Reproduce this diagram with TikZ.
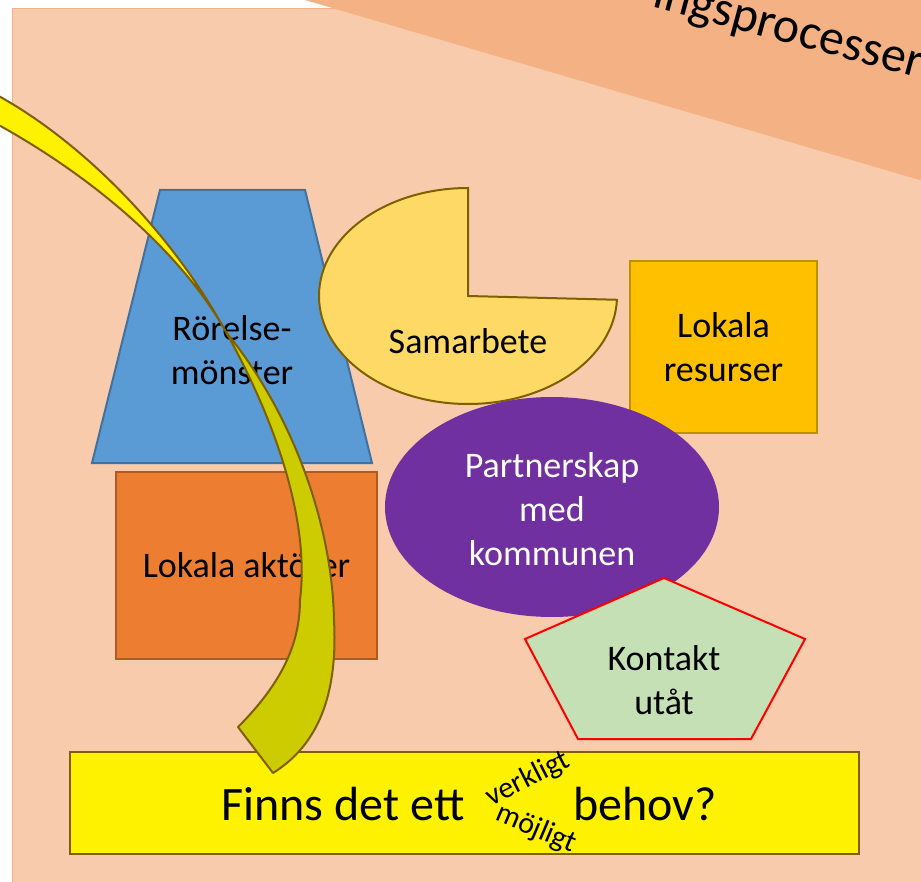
\documentclass[tikz,border=0pt]{standalone}
\usepackage{fontspec}
\setmainfont{Carlito}
\usepackage{xcolor}
\definecolor{bgpeach}{HTML}{F8CBAD}
\definecolor{bannerorange}{HTML}{F4B183}
\definecolor{trapblue}{HTML}{5B9BD5}
\definecolor{trapline}{HTML}{41719C}
\definecolor{pacyellow}{HTML}{FFD966}
\definecolor{olivebrown}{HTML}{7F6000}
\definecolor{resgold}{HTML}{FFC000}
\definecolor{resline}{HTML}{BF9000}
\definecolor{partpurple}{HTML}{7030A0}
\definecolor{aktorange}{HTML}{ED7D31}
\definecolor{aktline}{HTML}{AE5A21}
\definecolor{kontgreen}{HTML}{C5E0B4}
\definecolor{arrowback}{HTML}{CCCC00}
\tikzset{
  shapelabel/.style={text=black, align=center, font=\fontsize{18}{22}\selectfont},
  bigtext/.style={text=black, font=\fontsize{24}{28}\selectfont},
  smalltext/.style={text=black, font=\fontsize{15}{18}\selectfont},
  bannertext/.style={text=black, font=\fontsize{25}{30}\selectfont},
  arrowedge/.style={draw=olivebrown, line width=1pt, line join=round}
}

\begin{document}
\begin{tikzpicture}[x=0.5pt,y=-0.5pt]
	\useasboundingbox (0,0) rectangle (921,882);
	\clip (0,0) rectangle (921,882);
	% Background and banner
	\draw[bannerorange, fill=bgpeach] (12,8) rectangle (940,900);
	\fill[bannerorange] (298,-2) -- (930,183) -- (930,-2) -- cycle;
	\node[bannertext, rotate=-15, anchor=base east] (process) at (926,80) {ingsprocesser};
	% Upper shapes
	\draw[trapline, line width=1pt, fill=trapblue] (92,463) -- (160,190) -- (305,190) -- (372,463) -- cycle;
	\node[shapelabel] (movement) at (232,350) {Rörelse-\\mönster};
	\draw[olivebrown, line width=1pt, fill=pacyellow] (468,296) -- (468,188) arc[start angle=270, end angle=2, x radius=149, y radius=108] -- cycle;
	\node[shapelabel] (coop) at (468,341) {Samarbete};
	\draw[resline, line width=1pt, fill=resgold] (630,261) rectangle (817,433) node[pos=.5, shapelabel] (resources) {Lokala\\resurser};
	% Middle shapes
	\fill[partpurple] (552,507) ellipse [x radius=167, y radius=110];
	\node[shapelabel, text=white] (partner) at (552,509) {Partnerskap\\med\\kommunen};
	\draw[aktline, line width=1pt, fill=aktorange] (116,472) rectangle (377,659) node[pos=.5, shapelabel] (actors) {Lokala aktörer};
	\draw[red, line width=1pt, fill=kontgreen] (664,578) -- (805,639) -- (751,739) -- (578,739) -- (525,639) -- cycle;
	\node[shapelabel] (contact) at (664,680) {Kontakt\\utåt};
	% Question box
	\draw[olivebrown, line width=1pt, fill=yellow] (70,752) rectangle (859,854);
	\node[bigtext, anchor=base] (question) at (343,820) {Finns det ett};
	\node[bigtext, anchor=base west] (need) at (566,820) {behov?};
	\node[smalltext, rotate=27] (real) at (528,779) {verkligt};
	\node[smalltext, rotate=-23] (possible) at (536,829) {möjligt};
	% Twisted arrow
	\coordinate (twist) at (226,332);
	\coordinate (barb) at (238,727);
	\coordinate (tip) at (273,773);
	\draw[arrowedge, fill=yellow] (-5,94) .. controls (80,140) and (170,230) .. (twist)
		.. controls (180,250) and (90,175) .. (-5,123) -- cycle;
	\draw[arrowedge, fill=arrowback] (twist) .. controls (275,420) and (310,520) .. (300,600)
		.. controls (300,640) and (285,680) .. (barb) -- (tip)
		.. controls (318,745) and (338,695) .. (334,620)
		.. controls (332,520) and (290,410) .. (twist) -- cycle;
\end{tikzpicture}
\end{document}
